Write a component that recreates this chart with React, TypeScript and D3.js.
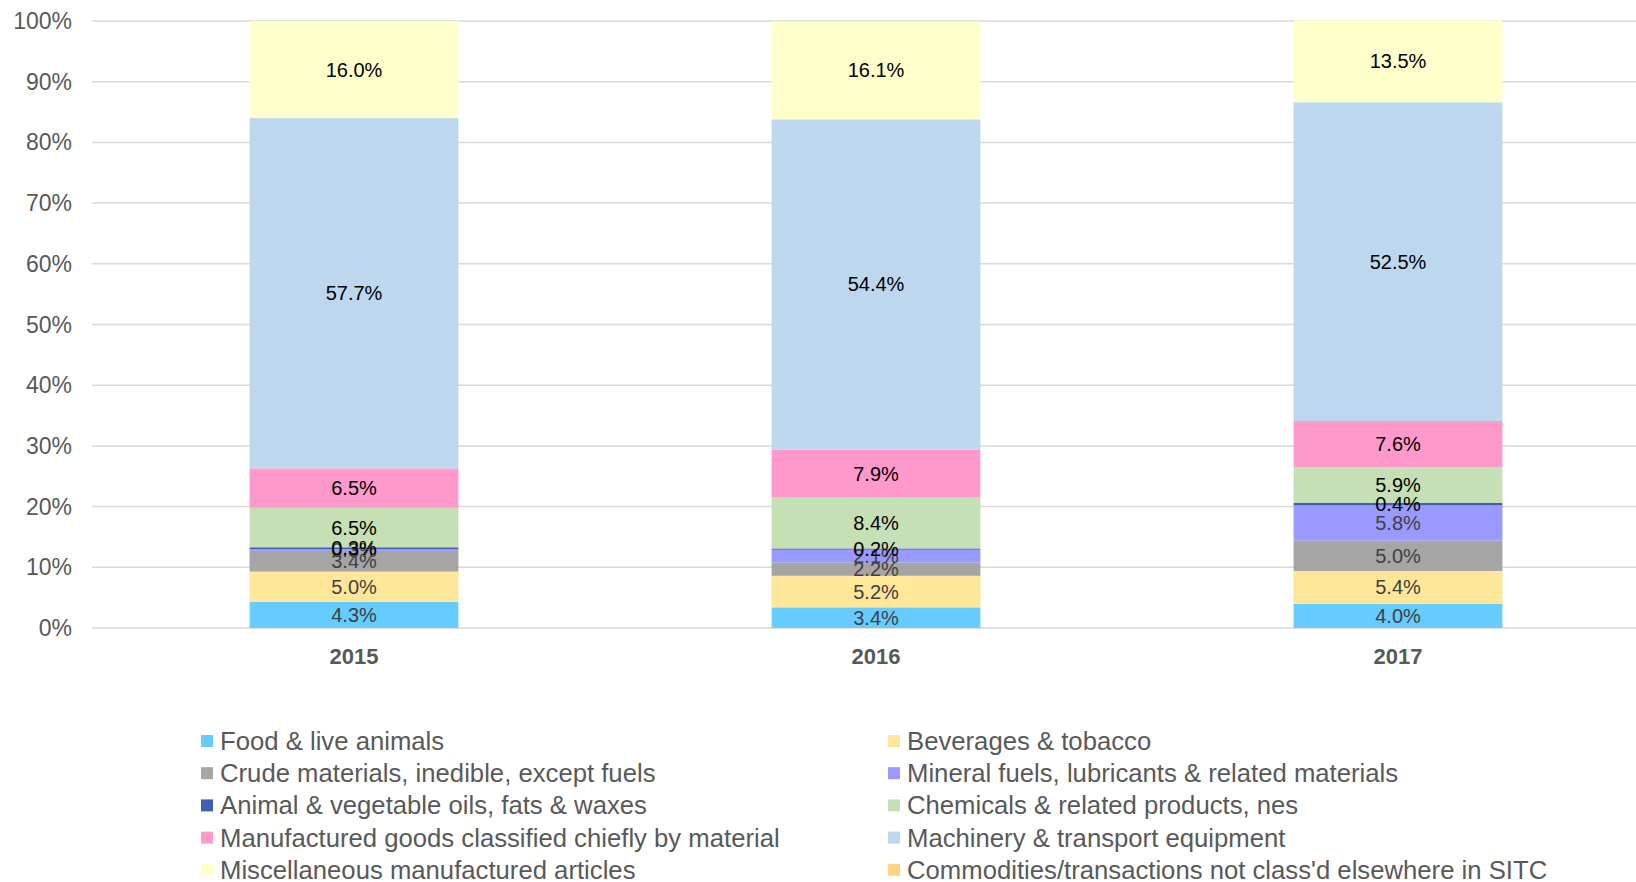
import React from "react";
import * as d3 from "d3";

const years = ["2015", "2016", "2017"];
const seriesNames = [
  "Food & live animals",
  "Beverages & tobacco",
  "Crude materials, inedible, except fuels",
  "Mineral fuels, lubricants & related materials",
  "Animal & vegetable oils, fats & waxes",
  "Chemicals & related products, nes",
  "Manufactured goods classified chiefly by material",
  "Machinery & transport equipment",
  "Miscellaneous manufactured articles",
  "Commodities/transactions not class'd elsewhere in SITC",
];
const food = [4.3, 3.4, 4.0];
const beverages = [5.0, 5.2, 5.4];
const crude = [3.4, 2.2, 5.0];
const mineral = [0.3, 2.1, 5.8];
const oils = [0.3, 0.2, 0.4];
const chemicals = [6.5, 8.4, 5.9];
const manufactured = [6.5, 7.9, 7.6];
const machinery = [57.7, 54.4, 52.5];
const miscellaneous = [16.0, 16.1, 13.5];
const commodities = [0, 0, 0];
const seriesValues = [food, beverages, crude, mineral, oils, chemicals, manufactured, machinery, miscellaneous, commodities];
const colors = ["#66CCFF", "#FFE699", "#A5A5A5", "#9999FF", "#3F5FAF", "#C5E0B4", "#FF99CC", "#BDD7EE", "#FFFFCC", "#FFD37F"];
const labelColors = ["#404040", "#404040", "#404040", "#404040", "#000", "#000", "#000", "#000", "#000", "#000"];
const yTicks = [0, 0.1, 0.2, 0.3, 0.4, 0.5, 0.6, 0.7, 0.8, 0.9, 1.0];

const W = 1636;
const H = 882;
const FONT = "'Liberation Sans', Arial, sans-serif";

export default function App() {
  const x = d3.scaleBand<string>().domain(years).range([93, 1659]).paddingInner(0.6).paddingOuter(0.3);
  const y = d3.scaleLinear().domain([0, 1]).range([628, 21]);
  const fmt = d3.format(".0%");

  const rows = years.map((yr, i) => {
    const o: any = { year: yr };
    seriesNames.forEach((s, k) => (o[s] = seriesValues[k][i] / 100));
    return o;
  });
  const stack = d3.stack<any>().keys(seriesNames)(rows);

  return (
    <svg width={W} height={H} style={{ position: "absolute", left: 0, top: 0, display: "block", background: "#fff" }} fontFamily={FONT}>
      {yTicks.map((t) => (
        <g key={t}>
          <line x1={92} x2={W} y1={y(t)} y2={y(t)} stroke="#D9D9D9" strokeWidth={1.5} />
          <text x={72} y={y(t)} dy="0.35em" textAnchor="end" fontSize={23} fill="#595959">
            {fmt(t)}
          </text>
        </g>
      ))}
      {stack.map((layer, k) => (
        <g key={seriesNames[k]} fill={colors[k]}>
          {layer.map((d, i) =>
            d[1] - d[0] > 0 ? (
              <rect key={i} x={x(years[i])} width={x.bandwidth()} y={y(d[1])} height={y(d[0]) - y(d[1])} />
            ) : null
          )}
        </g>
      ))}
      {stack.map((layer, k) => (
        <g key={"l" + k}>
          {layer.map((d, i) =>
            d[1] - d[0] > 0 ? (
              <text
                key={i}
                x={(x(years[i]) as number) + x.bandwidth() / 2}
                y={y((d[0] + d[1]) / 2)}
                dy="0.35em"
                textAnchor="middle"
                fontSize={20}
                fill={labelColors[k]}
              >
                {(seriesValues[k][i]).toFixed(1) + "%"}
              </text>
            ) : null
          )}
        </g>
      ))}
      {years.map((yr) => (
        <text key={yr} x={(x(yr) as number) + x.bandwidth() / 2} y={656} dy="0.35em" textAnchor="middle" fontSize={22} fontWeight="bold" fill="#595959">
          {yr}
        </text>
      ))}
      {seriesNames.map((s, k) => {
        const col = k % 2;
        const row = Math.floor(k / 2);
        const sx = col === 0 ? 201 : 888;
        const cy = 741 + row * 32.2;
        return (
          <g key={"lg" + k}>
            <rect x={sx} y={cy - 6} width={12} height={12} fill={colors[k]} />
            <text x={sx + 19} y={cy} dy="0.35em" fontSize={25.7} fill="#595959">
              {s}
            </text>
          </g>
        );
      })}
    </svg>
  );
}
